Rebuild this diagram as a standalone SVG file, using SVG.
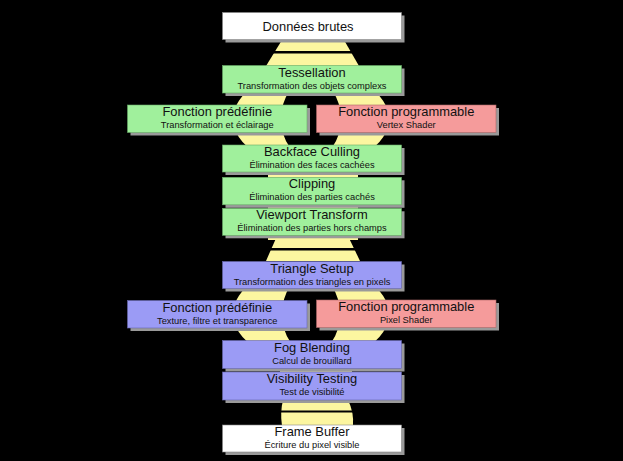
<svg xmlns="http://www.w3.org/2000/svg" width="623" height="461" viewBox="0 0 623 461">
<style>
.bg{fill:#000}
.y{fill:#fcf6a0}
.k{fill:#000}
.sh{fill:#9a9a9a}
.w{fill:#ffffff;stroke:#888;stroke-width:0.6}
.g{fill:#a0f09c;stroke:#6a6;stroke-width:0.6}
.p{fill:#f59b9b;stroke:#a66;stroke-width:0.6}
.b{fill:#9b9bf5;stroke:#66a;stroke-width:0.6}
.t{font-family:"Liberation Sans",Arial,sans-serif;font-size:12.9px;fill:#111;text-anchor:middle}
.s{font-family:"Liberation Sans",Arial,sans-serif;font-size:9.3px;fill:#111;text-anchor:middle}
</style>
<rect class="bg" x="0" y="0" width="623" height="461"/>
<g id="connectors">
  <path class="y" d="M282,40 L344,40 L359,66 L266,66 Z"/>
  <rect class="k" x="260" y="51" width="105" height="2.5"/>
  <path class="y" fill-rule="evenodd" d="M233,119 a78,48 0 1,0 156,0 a78,48 0 1,0 -156,0 Z M281,119 a30,40 0 1,0 60,0 a30,40 0 1,0 -60,0 Z"/>
  <rect class="y" x="268" y="150" width="90" height="90"/>
  <path class="y" d="M277,236 L348,236 L360,261 L266,261 Z"/>
  <rect class="k" x="260" y="248" width="105" height="2.5"/>
  <path class="y" fill-rule="evenodd" d="M233,314 a78,48 0 1,0 156,0 a78,48 0 1,0 -156,0 Z M282,314 a29,40 0 1,0 58,0 a29,40 0 1,0 -58,0 Z"/>
  <rect class="y" x="280" y="345" width="72" height="58"/>
  <path class="y" d="M283,400 L348,400 Q354,412 353,426 L282,426 Q280,412 283,400 Z"/>
  <rect class="k" x="275" y="410.5" width="85" height="2"/>
</g>
<g id="donnees">
  <rect class="sh" x="225.5" y="15.5" width="179" height="27"/>
  <rect class="w" x="222.5" y="12.5" width="179" height="27"/>
  <text class="t" x="308" y="30.5">Données brutes</text>
</g>
<g id="tessellation">
  <rect class="sh" x="225.5" y="68.5" width="179" height="27.5"/>
  <rect class="g" x="222.5" y="65.5" width="179" height="27.5"/>
  <text class="t" x="312" y="76.5">Tessellation</text>
  <text class="s" x="312" y="88.5">Transformation des objets complexs</text>
</g>
<g id="fonction-predefinie-1">
  <rect class="sh" x="130.5" y="108" width="179.5" height="27.5"/>
  <rect class="g" x="127.5" y="105" width="179.5" height="27.5"/>
  <text class="t" x="217.25" y="116">Fonction prédéfinie</text>
  <text class="s" x="217.25" y="128">Transformation et éclairage</text>
</g>
<g id="fonction-programmable-1">
  <rect class="sh" x="319.5" y="108" width="179.5" height="27.5"/>
  <rect class="p" x="316.5" y="105" width="179.5" height="27.5"/>
  <text class="t" x="406.25" y="116">Fonction programmable</text>
  <text class="s" x="406.25" y="128">Vertex Shader</text>
</g>
<g id="backface">
  <rect class="sh" x="225.5" y="148" width="179" height="27"/>
  <rect class="g" x="222.5" y="145" width="179" height="27"/>
  <text class="t" x="312" y="156">Backface Culling</text>
  <text class="s" x="312" y="168">Élimination des faces cachées</text>
</g>
<g id="clipping">
  <rect class="sh" x="225.5" y="180.3" width="179" height="27.5"/>
  <rect class="g" x="222.5" y="177.3" width="179" height="27.5"/>
  <text class="t" x="312" y="188.3">Clipping</text>
  <text class="s" x="312" y="200.3">Élimination des parties cachés</text>
</g>
<g id="viewport">
  <rect class="sh" x="225.5" y="211.3" width="179" height="27"/>
  <rect class="g" x="222.5" y="208.3" width="179" height="27"/>
  <text class="t" x="312" y="219.3">Viewport Transform</text>
  <text class="s" x="312" y="231.3">Élimination des parties hors champs</text>
</g>
<g id="triangle-setup">
  <rect class="sh" x="225.5" y="264.5" width="179" height="27"/>
  <rect class="b" x="222.5" y="261.5" width="179" height="27"/>
  <text class="t" x="312" y="272.5">Triangle Setup</text>
  <text class="s" x="312" y="284.5">Transformation des triangles en pixels</text>
</g>
<g id="fonction-predefinie-2">
  <rect class="sh" x="130.5" y="303.5" width="179.5" height="27.5"/>
  <rect class="b" x="127.5" y="300.5" width="179.5" height="27.5"/>
  <text class="t" x="217.25" y="311.5">Fonction prédéfinie</text>
  <text class="s" x="217.25" y="323.5">Texture, filtre et transparence</text>
</g>
<g id="fonction-programmable-2">
  <rect class="sh" x="319.5" y="303" width="179.5" height="27.5"/>
  <rect class="p" x="316.5" y="300" width="179.5" height="27.5"/>
  <text class="t" x="406.25" y="311">Fonction programmable</text>
  <text class="s" x="406.25" y="323">Pixel Shader</text>
</g>
<g id="fog">
  <rect class="sh" x="225.5" y="343.5" width="179" height="28"/>
  <rect class="b" x="222.5" y="340.5" width="179" height="28"/>
  <text class="t" x="312" y="351.5">Fog Blending</text>
  <text class="s" x="312" y="363.5">Calcul de brouillard</text>
</g>
<g id="visibility">
  <rect class="sh" x="225.5" y="375" width="179" height="28"/>
  <rect class="b" x="222.5" y="372" width="179" height="28"/>
  <text class="t" x="312" y="383">Visibility Testing</text>
  <text class="s" x="312" y="395">Test de visibilité</text>
</g>
<g id="frame-buffer">
  <rect class="sh" x="225.5" y="428" width="179" height="27"/>
  <rect class="w" x="222.5" y="425" width="179" height="27"/>
  <text class="t" x="312" y="436">Frame Buffer</text>
  <text class="s" x="312" y="448">Écriture du pixel visible</text>
</g>
</svg>
